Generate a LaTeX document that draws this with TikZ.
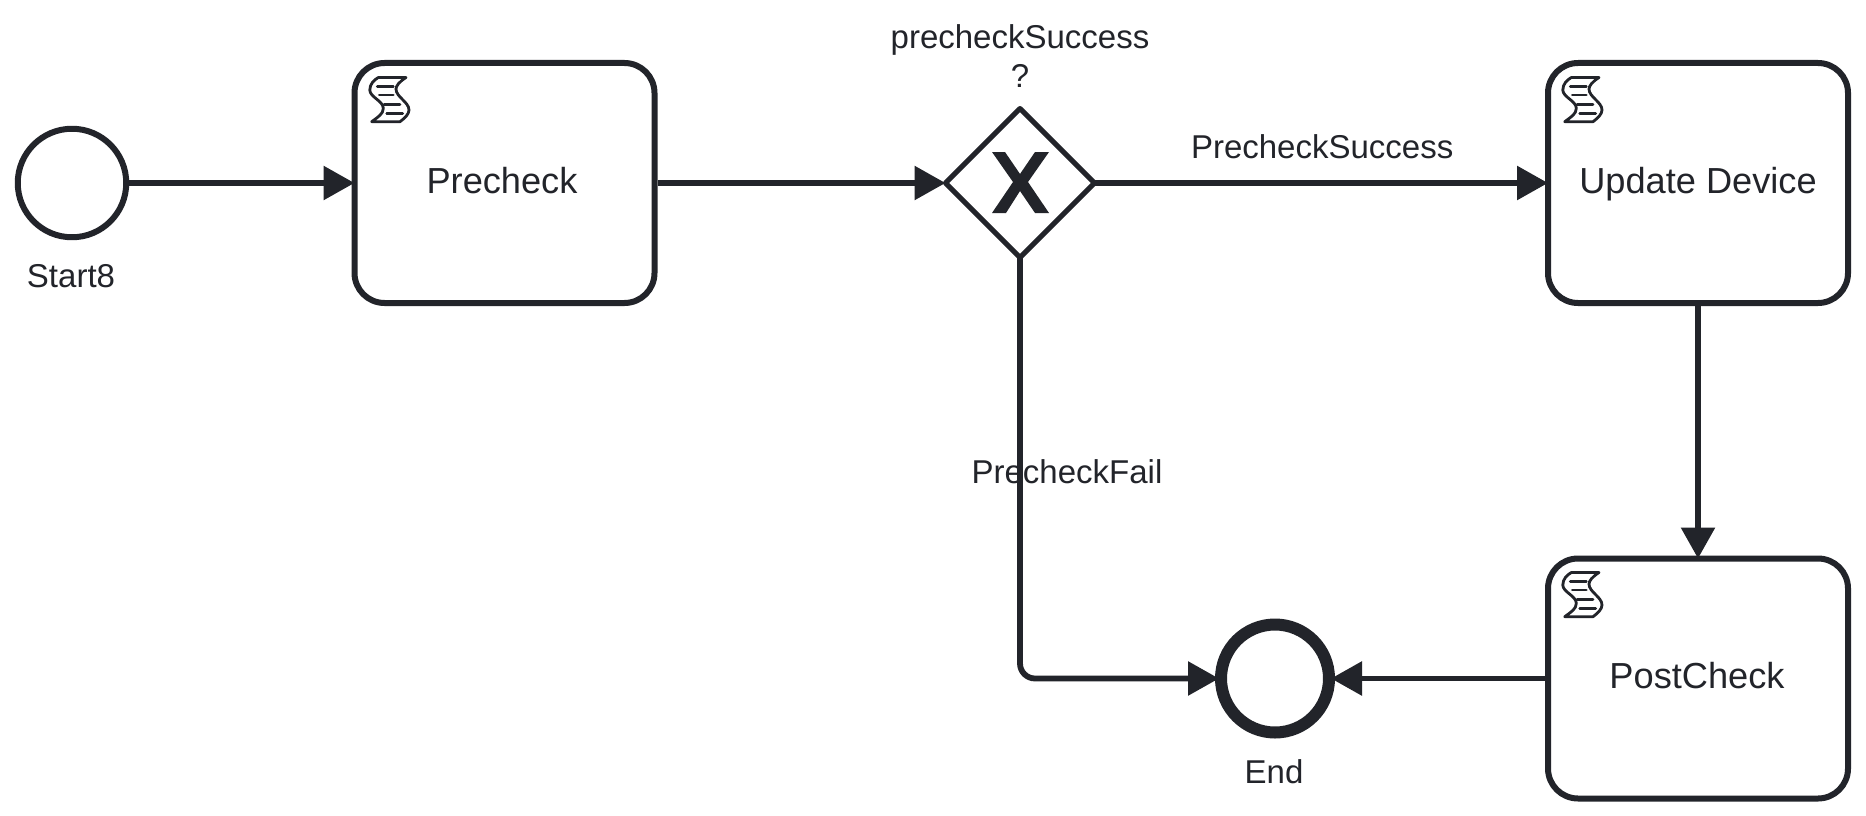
\documentclass[tikz,border=0pt]{standalone}
\usepackage{fontspec}
\setmainfont{Liberation Sans}
\usetikzlibrary{arrows.meta,shapes.geometric}
\definecolor{ink}{HTML}{22242A}
\tikzset{
  base/.style={draw=ink,line width=6pt,fill=white,inner sep=0pt,outer sep=3pt,line join=round},
  taskbox/.style={base,rectangle,rounded corners=30pt,minimum width=300pt,minimum height=240pt,text=ink,font=\fontsize{36.2}{44}\selectfont,text height=25pt,text depth=5pt},
  startev/.style={base,circle,minimum size=108.5pt},
  endev/.style={base,circle,line width=12pt,outer sep=6pt,minimum size=108pt},
  gateway/.style={base,diamond,line width=5pt,outer sep=0pt,minimum width=149pt,minimum height=149pt},
  lbl/.style={text=ink,inner sep=0pt,font=\fontsize{33}{38}\selectfont},
  flow/.style={draw=ink,line width=5.8pt,-{Triangle[length=31pt,width=33pt]}},
  totask/.style={flow,shorten >=-3pt},
  toend/.style={flow,shorten >=-4pt},
  scripticon/.pic={
    \draw[ink,line width=2.8pt,line join=round,line cap=round]
      (25.3,15.5) -- (53,15.5) .. controls (46,20) and (43,24) .. (43,27)
      .. controls (43,35) and (56,40) .. (56,48) .. controls (56,52) and (52,56) .. (47,59.7)
      -- (18.7,59.7) .. controls (25,55) and (30.3,52) .. (30.3,46.3)
      .. controls (30.3,39) and (16.8,35) .. (16.8,28)
      .. controls (16.8,22) and (21,18) .. (25.3,15.5) -- cycle;
    \draw[ink,line width=2.8pt,line cap=round]
      (24.3,24.2) -- (40.3,24.2)
      (26.3,33) -- (40.3,33)
      (31,42.3) -- (47,42.3)
      (33.7,51.3) -- (49.7,51.3);
  }
}
\begin{document}
\begin{tikzpicture}[x=1pt,y=-1pt]
\useasboundingbox[fill=white] (0,0) rectangle (1866,816);
\node[startev] (start) at (72,183) {};
\node[taskbox] (precheck) at (504.5,183) {\kern-5pt Precheck};
\node[gateway] (gw) at (1020,183) {};
\node[taskbox] (update) at (1698,183) {Update Device};
\node[taskbox] (post) at (1698,678.5) {\kern-2pt PostCheck};
\node[endev] (end) at (1275,678.5) {};
\pic at (353,62) {scripticon};
\pic at (1546,62) {scripticon};
\pic at (1546,557) {scripticon};
\fill[ink,shift={(gw.center)}]
  (-28,-31) -- (-15,-31) -- (0,-9) -- (15,-31) -- (29,-31) -- (8,-1)
  -- (29,30) -- (15,30) -- (0,8) -- (-14,30) -- (-28,30) -- (-7,-1) -- cycle;
\node[lbl] (startl) at (71,276) {Start8};
\node[lbl] (gwl1) at (1020,40) {precheckSuccess};
\node[lbl] (gwl2) at (1020,76) {?};
\node[lbl] (endl) at (1274,772) {End};
\draw[totask] (start.east) -- (precheck.west);
\draw[flow] (precheck.east) -- (gw.west);
\draw[totask] (gw.east) -- node[lbl,pos=0.5,xshift=2.4pt,yshift=36pt] (succ) {PrecheckSuccess} (update.west);
\draw[totask] (update.south) -- (post.north);
\draw[toend,rounded corners=15pt] (gw.south) |- (end.west);
\draw[toend] (post.west) -- (end.east);
\node[lbl] (fail) at (1067,472) {PrecheckFail};
\end{tikzpicture}
\end{document}
